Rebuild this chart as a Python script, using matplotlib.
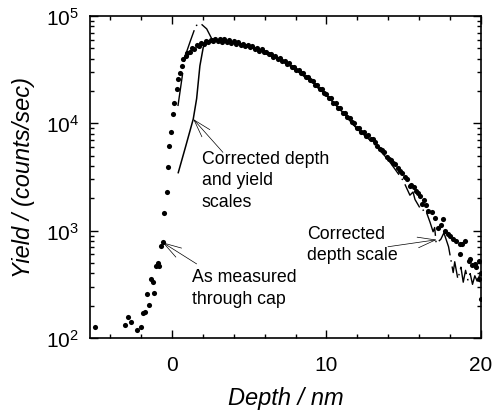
import matplotlib
matplotlib.use('Agg')
import matplotlib.pyplot as plt
from matplotlib.ticker import MultipleLocator, LogLocator, LogFormatterSciNotation, NullFormatter

plt.rcParams['font.family'] = ['Liberation Sans', 'DejaVu Sans']
plt.rcParams['mathtext.fontset'] = 'custom'
plt.rcParams['mathtext.rm'] = 'Liberation Sans'
plt.rcParams['mathtext.it'] = 'Liberation Sans:italic'
plt.rcParams['lines.scale_dashes'] = False

# ---- data: "As measured through cap" (dots) ----
meas_depth = [-5.0, -3.04, -2.83, -2.67, -2.29, -2.03, -1.86, -1.75, -1.60, -1.49,
              -1.38, -1.25, -1.17, -1.04, -0.93, -0.82, -0.71, -0.60, -0.52, -0.34,
              -0.28, -0.17, -0.06, 0.04, 0.15, 0.30, 0.37, 0.52, 0.63, 0.73, 0.91,
              1.00, 1.15, 1.30, 1.45, 1.60, 1.75, 1.90, 2.05, 2.20, 2.35, 2.50, 2.65,
              2.80, 2.95, 3.10, 3.25, 3.40, 3.55, 3.70, 3.85, 4.00, 4.15, 4.30, 4.45,
              4.60, 4.75, 4.90, 5.05, 5.20, 5.35, 5.50, 5.65, 5.80, 5.95, 6.10, 6.25,
              6.40, 6.55, 6.70, 6.85, 7.00, 7.15, 7.30, 7.45, 7.60, 7.75, 7.90, 8.05,
              8.20, 8.35, 8.50, 8.65, 8.80, 8.95, 9.10, 9.25, 9.40, 9.55, 9.70, 9.85,
              10.00, 10.15, 10.30, 10.45, 10.60, 10.75, 10.90, 11.05, 11.20, 11.35,
              11.50, 11.65, 11.80, 11.95, 12.10, 12.25, 12.40, 12.55, 12.70, 12.85,
              13.00, 13.15, 13.30, 13.46, 13.60, 13.75, 13.90, 14.05, 14.20, 14.30,
              14.45, 14.60, 14.75, 14.90, 15.05, 15.20, 15.40, 15.50, 15.65, 15.80,
              15.95, 16.05, 16.16, 16.30, 16.45, 16.60, 16.80, 17.00, 17.24, 17.40,
              17.56, 17.67, 17.85, 17.99, 18.20, 18.40, 18.64, 18.80, 18.96, 18.64,
              19.20, 19.30, 19.40, 19.60, 19.70, 19.90, 19.90, 20.00, 20.00]
meas_yield = [126, 132, 156, 140, 119, 126, 170, 174, 257, 204,
              354, 334, 262, 465, 497, 470, 714, 790, 1450, 2280,
              3940, 6170, 8230, 12200, 15600, 20900, 25900, 29500, 34300, 39800, 42600,
              45600, 46000, 50000, 49200, 53500, 52700, 56100, 55100, 58600, 57000, 60000, 58400,
              61500, 58400, 61500, 57700, 60800, 57700, 59400, 56400, 58000, 55100, 56700, 53900,
              55400, 52600, 54200, 51400, 52300, 49100, 50500, 47400, 48900, 45900, 46600, 43800,
              44600, 41800, 42500, 39900, 40600, 37700, 38400, 35600, 36200, 33600, 33800, 31400,
              31500, 29300, 29400, 27000, 27100, 25200, 25000, 22900, 22800, 21000, 20800, 19100,
              18800, 17200, 17100, 15500, 15400, 14000, 13800, 12600, 12500, 11400,
              11200, 10300, 10100, 9140, 9090, 8340, 8290, 7690, 7740, 7100,
              7140, 6760, 6170, 5750, 5690, 5370, 4900, 4680, 4520, 4270,
              4170, 3800, 3590, 3470, 3160, 3020, 2630, 2690, 2570, 2340,
              2240, 2110, 1780, 1910, 1740, 1530, 1480, 1320, 1070, 1120,
              1290, 1000, 933, 891, 832, 794, 750, 759, 804, 603,
              525, 543, 479, 490, 457, 525, 355, 407, 230]

# ---- data: "Corrected depth and yield scales" (solid line) ----
cdy_depth = [0.41, 0.90, 1.38, 1.60, 1.81, 2.03, 2.30, 2.60, 3.00, 3.50, 4.00, 5.00,
             6.00, 7.00, 8.00, 9.00, 10.00, 11.00, 12.00]
cdy_yield = [3470, 6170, 10960, 17000, 34300, 51300, 58200, 58900, 59600, 58900, 56900, 52500,
             46200, 39800, 32400, 25100, 18400, 12900, 8910]

# ---- data: "Corrected depth scale" (dash-dot line) ----
cd_depth = [0.39, 0.71, 0.84, 1.20, 1.55, 1.86, 2.25, 2.57, 3.00, 4.00, 5.00, 6.00,
            7.00, 8.00, 9.00, 10.00, 11.00, 12.00, 13.00, 13.50, 14.00, 14.50, 14.97,
            15.40, 15.60, 15.73, 16.16, 16.40, 16.70, 16.90, 17.00, 17.10, 17.40, 17.60,
            17.90, 18.20, 18.30, 18.50, 18.70, 18.85, 19.00, 19.15, 19.30, 19.45, 19.60,
            19.75, 19.90, 20.00]
cd_yield = [14500, 30200, 41700, 58900, 81300, 85100, 75900, 61700, 58900, 56200, 51900, 45700,
            39400, 31600, 24300, 18200, 12900, 8810, 6610, 5500, 4570, 3630, 2920,
            2140, 2290, 1950, 1530, 1580, 1200, 977, 1070, 759, 832, 955,
            708, 407, 513, 355, 457, 331, 427, 347, 398, 316, 380,
            339, 380, 295]

fig = plt.figure(figsize=(4.94, 4.14), dpi=100)
ax = fig.add_axes([0.1822, 0.1812, 0.7915, 0.7777])

ax.plot(cdy_depth, cdy_yield, '-', color='k', lw=1.1)
ax.plot(cd_depth, cd_yield, color='k', lw=1.0, dashes=(24, 3.5, 1.1, 3.5))
ax.plot(meas_depth, meas_yield, 'o', color='k', ms=3.7, mew=0)

ax.set_yscale('log')
ax.set_xlim(-5.3, 20)
ax.set_ylim(100, 1e5)
ax.xaxis.set_major_locator(MultipleLocator(10))
ax.xaxis.set_minor_locator(MultipleLocator(2))
ax.yaxis.set_major_locator(LogLocator(base=10))
ax.yaxis.set_minor_locator(LogLocator(base=10, subs=range(2, 10)))
ax.yaxis.set_major_formatter(LogFormatterSciNotation())
ax.yaxis.set_minor_formatter(NullFormatter())

ax.tick_params(which='both', direction='in', top=True, right=True, width=1.0)
ax.tick_params(which='major', length=6, labelsize=15)
ax.tick_params(axis='x', which='major', pad=12)
ax.tick_params(axis='y', which='major', pad=8)
ax.tick_params(which='minor', length=3)
for s in ax.spines.values():
    s.set_linewidth(1.2)

ax.set_xlabel('Depth / nm', fontsize=17, style='italic', labelpad=9)
ax.set_ylabel('Yield / (counts/sec)', fontsize=17, style='italic', labelpad=8)

fs = 12.8
aprops = dict(arrowstyle='->,head_length=1.0,head_width=0.3', lw=0.5, color='k',
              shrinkA=0, shrinkB=0, mutation_scale=fs)

ax.text(1.94, 5620, 'Corrected depth\nand yield\nscales', ha='left', va='top',
        fontsize=fs, linespacing=1.32)
ax.annotate('', xy=(1.38, 10960), xytext=(3.30, 5370), arrowprops=aprops)

ax.text(1.27, 445, 'As measured\nthrough cap', ha='left', va='top',
        fontsize=fs, linespacing=1.32)
ax.annotate('', xy=(-0.60, 776), xytext=(1.60, 490), arrowprops=aprops)

ax.text(8.72, 1130, 'Corrected\ndepth scale', ha='left', va='top',
        fontsize=fs, linespacing=1.32)
ax.annotate('', xy=(17.13, 823), xytext=(13.98, 708), arrowprops=aprops)

fig.savefig('out.png', dpi=100)
